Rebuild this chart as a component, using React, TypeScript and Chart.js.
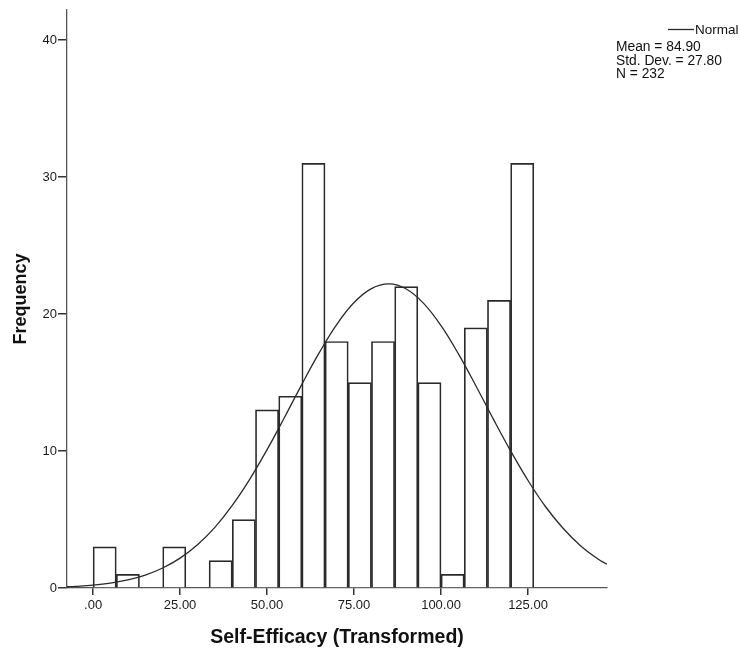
import React, { useEffect, useRef } from "react";
import { Chart, registerables } from "chart.js";

Chart.register(...registerables);

// Histogram bins (bin width 20/3, starting at 0)
const binCenters = [3.33, 10, 16.67, 23.33, 30, 36.67, 43.33, 50, 56.67, 63.33, 70, 76.67, 83.33, 90, 96.67, 103.33, 110, 116.67, 123.33];
const frequencies = [3, 1, 0, 3, 0, 2, 5, 13, 14, 31, 18, 15, 18, 22, 15, 1, 19, 21, 31];

// Normal curve (Mean = 84.90, SD = 27.80)
const curveX = [-7.5, -5, 0, 5, 10, 15, 20, 25, 30, 35, 40, 45, 50, 55, 60, 65, 70, 75, 80, 85, 90, 95, 100, 105, 110, 115, 120, 125, 130, 135, 140, 145, 147.7];
const curveY = [0.09, 0.12, 0.21, 0.36, 0.59, 0.94, 1.46, 2.18, 3.16, 4.43, 6.03, 7.93, 10.1, 12.45, 14.87, 17.18, 19.23, 20.84, 21.86, 22.2, 21.83, 20.78, 19.15, 17.09, 14.77, 12.35, 10.01, 7.85, 5.95, 4.38, 3.11, 2.14, 1.73];

const xTickValues = [0, 25, 50, 75, 100, 125];
const xTickLabels = [".00", "25.00", "50.00", "75.00", "100.00", "125.00"];
const yTickValues = [0, 10, 20, 30, 40];

const xTitle = "Self-Efficacy (Transformed)";
const yTitle = "Frequency";
const legendLabel = "Normal";
const statLines = ["Mean = 84.90", "Std. Dev. = 27.80", "N = 232"];

const FONT = "'Liberation Sans', Arial, sans-serif";
const AXIS_COLOR = "#555";
const MARK_COLOR = "#2a2a2a";

const legendPlugin = {
  id: "spssLegend",
  afterDraw(chart: any) {
    const ctx = chart.ctx;
    ctx.save();
    ctx.fillStyle = "#111";
    ctx.strokeStyle = MARK_COLOR;
    ctx.lineWidth = 1.3;
    ctx.font = `13.5px ${FONT}`;
    ctx.textBaseline = "alphabetic";
    ctx.textAlign = "left";
    ctx.beginPath();
    ctx.moveTo(668, 29.5);
    ctx.lineTo(694, 29.5);
    ctx.stroke();
    ctx.fillText(legendLabel, 695, 34);
    ctx.font = `13.8px ${FONT}`;
    statLines.forEach((s, i) => {
      ctx.fillText(s, 616, 51 + i * 13.7);
    });
    ctx.restore();
  },
};

export default function App() {
  const canvasRef = useRef<HTMLCanvasElement | null>(null);

  useEffect(() => {
    const canvas = canvasRef.current;
    if (!canvas) return;
    const chart = new Chart(canvas, {
      type: "bar",
      data: {
        datasets: [
          {
            type: "line",
            label: legendLabel,
            data: curveX.map((x, i) => ({ x, y: curveY[i] })),
            borderColor: MARK_COLOR,
            borderWidth: 1.3,
            pointRadius: 0,
            tension: 0.4,
            fill: false,
            order: 0,
          } as any,
          {
            type: "bar",
            label: "Frequency",
            data: binCenters.map((x, i) => ({ x, y: frequencies[i] })),
            backgroundColor: "#ffffff",
            borderColor: MARK_COLOR,
            borderWidth: 1.7,
            barPercentage: 1,
            categoryPercentage: 1,
            grouped: false,
            order: 1,
          } as any,
        ],
      },
      plugins: [legendPlugin],
      options: {
        animation: false,
        responsive: false,
        maintainAspectRatio: false,
        layout: { padding: { top: 10, right: 133, left: 0, bottom: 0 } },
        plugins: { legend: { display: false }, tooltip: { enabled: false } },
        scales: {
          x: {
            type: "linear",
            offset: false,
            min: -7.5,
            max: 147.7,
            afterBuildTicks: (scale: any) => {
              scale.ticks = xTickValues.map((v) => ({ value: v }));
            },
            afterFit: (scale: any) => {
              scale.height = 64;
            },
            ticks: {
              color: "#1a1a1a",
              font: { family: FONT, size: 13 },
              padding: 3,
              maxRotation: 0,
              autoSkip: false,
              callback: (_v: any, i: number) => xTickLabels[i],
            },
            grid: {
              display: true,
              offset: false,
              drawOnChartArea: false,
              drawTicks: true,
              tickLength: 7,
              lineWidth: 1.5,
              color: "#333",
            },
            border: { display: true, color: AXIS_COLOR, width: 1.3 },
            title: {
              display: true,
              text: xTitle,
              color: "#111",
              font: { family: FONT, size: 19.5, weight: "bold" },
              padding: { top: 0, bottom: 3 },
            },
          },
          y: {
            type: "linear",
            min: 0,
            max: 42.2,
            afterBuildTicks: (scale: any) => {
              scale.ticks = yTickValues.map((v) => ({ value: v }));
            },
            afterFit: (scale: any) => {
              scale.width = 67;
            },
            ticks: {
              color: "#1a1a1a",
              font: { family: FONT, size: 13 },
              padding: 1,
            },
            grid: {
              display: true,
              drawOnChartArea: false,
              drawTicks: true,
              tickLength: 9,
              lineWidth: 1.5,
              color: "#333",
            },
            border: { display: true, color: AXIS_COLOR, width: 1.3 },
            title: {
              display: true,
              text: yTitle,
              color: "#111",
              font: { family: FONT, size: 18, weight: "bold" },
              padding: { top: 10, bottom: 0 },
            },
          },
        },
      },
    });
    return () => chart.destroy();
  }, []);

  return (
    <div style={{ position: "fixed", left: 0, top: 0, width: 740, height: 652, background: "#fff" }}>
      <canvas ref={canvasRef} width={740} height={652} style={{ display: "block" }} />
    </div>
  );
}
